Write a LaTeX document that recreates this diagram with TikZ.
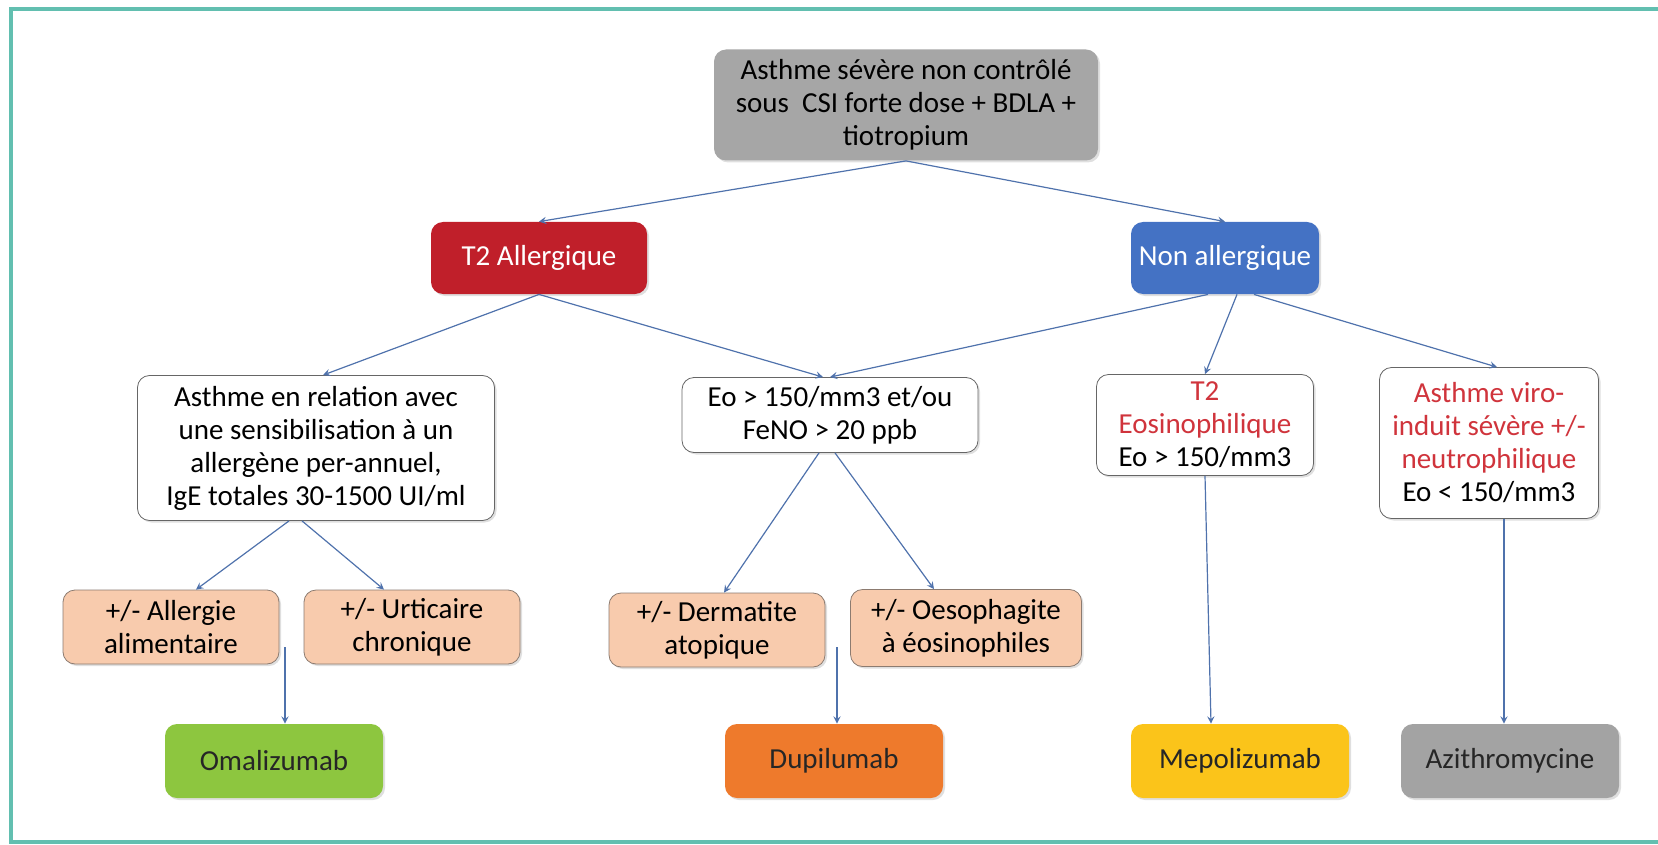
\documentclass[tikz,border=0pt]{standalone}
\usepackage{fontspec}
\setmainfont{Carlito}
\usetikzlibrary{arrows,shadows,calc,positioning}

\definecolor{frameteal}{HTML}{62BFB0}
\definecolor{linkblue}{HTML}{4F72AC}
\definecolor{topgray}{HTML}{A6A6A6}
\definecolor{allred}{HTML}{C01F2A}
\definecolor{nonblue}{HTML}{4472C4}
\definecolor{txtred}{HTML}{D0343C}
\definecolor{peach}{HTML}{F8CBAD}
\definecolor{peachline}{HTML}{8C7B70}
\definecolor{omagreen}{HTML}{8DC63F}
\definecolor{dupiorange}{HTML}{EE7A2C}
\definecolor{mepoyellow}{HTML}{FBC41A}
\definecolor{azigray}{HTML}{A3A3A3}

\begin{document}
\begin{tikzpicture}[>=stealth, x=0.5pt, y=-0.5pt]
    \tikzstyle{box}=[rectangle,rounded corners=6pt,align=center,inner sep=2pt,
      font=\fontsize{14.5}{16.5}\selectfont,
      drop shadow={opacity=0.25,shadow xshift=1pt,shadow yshift=-1pt}]
    \tikzstyle{plain}=[box,fill=white,draw=gray!80!black,thin]
    \tikzstyle{side}=[box,fill=peach,draw=peachline,thin,minimum width=108pt,minimum height=37pt]
    \tikzstyle{drug}=[box,text=black!85,minimum width=109pt,minimum height=37pt]
    \tikzstyle{link}=[->,draw=linkblue,line width=0.6pt]

    \useasboundingbox (0,0) rectangle (1658,845);
    \begin{scope}
      \clip (0,0) rectangle (1658,845);
      \draw[frameteal,line width=1.6pt] (1700,9) -- (11,9) -- (11,842) -- (1700,842);
    \end{scope}

    % first levels
    \node[box,fill=topgray,minimum width=192pt,minimum height=55.5pt](top) at (906,105)
      {Asthme sévère non contrôlé\\sous~ CSI forte dose + BDLA +\\tiotropium};
    \node[box,fill=allred,text=white,minimum width=108pt,minimum height=36pt](t2all) at (539,258)
      {T2 Allergique};
    \node[box,fill=nonblue,text=white,minimum width=94pt,minimum height=36pt](nonall) at (1225,258)
      {Non allergique};

    % phenotypes
    \node[plain,minimum width=178.5pt,minimum height=72.5pt](relation) at (316,448)
      {Asthme en relation avec\\une sensibilisation à un\\allergène per-annuel,\\IgE totales 30-1500 UI/ml};
    \node[plain,minimum width=148pt,minimum height=37.5pt](eo) at (830,415)
      {Eo > 150/mm3 et/ou\\FeNO > 20 ppb};
    \node[plain,minimum width=108.5pt,minimum height=50.5pt](t2eos) at (1205,425)
      {\textcolor{txtred}{T2}\\\textcolor{txtred}{Eosinophilique}\\Eo > 150/mm3};
    \node[plain,minimum width=109.5pt,minimum height=75.5pt](viro) at (1489,443)
      {\textcolor{txtred}{Asthme viro-}\\\textcolor{txtred}{induit sévère +/-}\\\textcolor{txtred}{neutrophilique}\\Eo < 150/mm3};

    % comorbidities
    \node[side](allerg) at (171,627) {+/- Allergie\\alimentaire};
    \node[side](urtic) at (412,627) {+/- Urticaire\\chronique};
    \node[side](derma) at (717,630) {+/- Dermatite\\atopique};
    \node[side,minimum width=115.5pt,minimum height=38.5pt](oeso) at (966,628) {+/- Oesophagite\\à éosinophiles};

    % treatments
    \node[drug,fill=omagreen](omali) at (274,761) {Omalizumab};
    \node[drug,fill=dupiorange](dupi) at (834,761) {Dupilumab};
    \node[drug,fill=mepoyellow](mepo) at (1240,761) {Mepolizumab};
    \node[drug,fill=azigray](azith) at (1510,761) {Azithromycine};

    \coordinate (omalistart) at (285,647);
    \coordinate (dupistart) at (837,647);

    \draw[link] (top.south) -- (t2all.north);
    \draw[link] (top.south) -- (nonall.north);
    \draw[link] (t2all.south) -- ([xshift=3.5pt]relation.north);
    \draw[link] (t2all.south) -- ([xshift=-3.5pt]eo.north);
    \draw[link] ([xshift=-8.5pt]nonall.south) -- (eo.north);
    \draw[link] ([xshift=6pt]nonall.south) -- (t2eos.north);
    \draw[link] ([xshift=14.5pt]nonall.south) -- ([xshift=4pt]viro.north);
    \draw[link] ([xshift=-13.5pt]relation.south) -- ([xshift=12.5pt]allerg.north);
    \draw[link] ([xshift=-7pt]relation.south) -- ([xshift=-14pt]urtic.north);
    \draw[link] ([xshift=-5.5pt]eo.south) -- ([xshift=3.5pt]derma.north);
    \draw[link] ([xshift=2.5pt]eo.south) -- ([xshift=-16pt]oeso.north);
    \draw[link] (omalistart) -- ([xshift=5.5pt]omali.north);
    \draw[link] (dupistart) -- ([xshift=1.5pt]dupi.north);
    \draw[link] (t2eos.south) -- ([xshift=-14.5pt]mepo.north);
    \draw[link] ([xshift=7.5pt]viro.south) -- ([xshift=-3pt]azith.north);
  \end{tikzpicture}
\end{document}
